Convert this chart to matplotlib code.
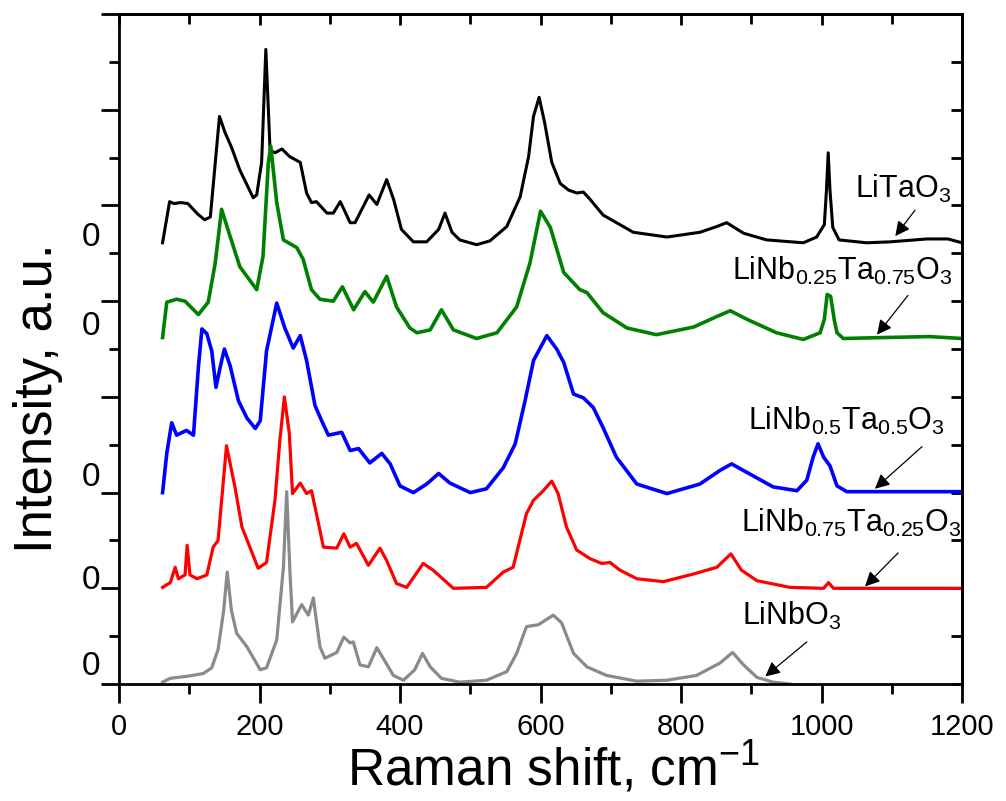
import matplotlib
matplotlib.use("Agg")
import matplotlib.pyplot as plt
from matplotlib.ticker import MultipleLocator

plt.rcParams['font.family'] = ['Liberation Sans', 'DejaVu Sans']
plt.rcParams['mathtext.default'] = 'regular'

# ---------------- data (Raman shift in cm^-1, intensity in a.u. above each baseline) -------------
litao3_x = [62, 72, 78, 88, 98, 112, 122, 130, 143, 151, 160, 172, 191, 196, 203, 209, 215, 222, 232,
            243, 258, 267, 274, 281, 296, 305, 315, 329, 336, 356, 367, 381, 391, 402, 419, 438, 455,
            464, 474, 485, 509, 528, 552, 571, 583, 590, 598, 606, 616, 628, 640, 652, 661, 671, 689,
            732, 780, 827, 851, 865, 889, 922, 974, 993, 1004, 1007, 1009.5, 1012, 1016, 1025, 1064,
            1098, 1150, 1180, 1200]
litao3_y = [0, 43, 41, 42, 41, 30, 24, 27, 132, 115, 100, 76, 47, 50, 84, 202, 97, 94, 98,
            90, 84, 52, 42, 43, 31, 31, 43, 21, 21, 50, 40, 66, 45, 14, 1, 1, 14,
            31, 11, 3, -2, 2, 17, 48, 90, 132, 152, 125, 84, 62, 55, 52, 53, 45, 29,
            11, 6, 11, 17, 21, 10, 3, 0, 6, 19, 55, 94, 55, 16, 3, 0,
            1, 4, 4, 0]

lnt25_75_x = [62, 68, 82, 94, 113, 127, 137, 146, 158, 172, 196, 205, 212.6, 216, 224.5, 234, 253,
              262, 274, 286, 305, 318, 334, 350, 362, 381, 395, 414, 424, 443, 459, 476, 509, 538,
              566, 585, 600, 614, 633, 656, 666, 689, 723, 765, 818, 851, 870, 894, 936, 974, 998,
              1004, 1008, 1013, 1018, 1022, 1031, 1088, 1154, 1200]
lnt25_75_y = [0, 37, 40, 38, 24, 37, 78, 134, 106, 74, 50, 85, 183, 200, 141, 102, 94,
              82, 50, 40, 38, 53, 29, 48, 37, 64, 32, 10, 5, 8, 29, 8, -1, 5,
              32, 78, 132, 115, 68, 50, 47, 26, 10, 3, 11, 22, 28, 19, 5, -2, 5,
              19, 45, 43, 19, 5, -1, 0, 1, -1]

lnt50_50_x = [62, 68, 75, 82, 96, 106, 113, 118, 125, 132, 138, 144, 150, 158, 170, 182, 194, 201,
              210, 224.5, 236, 248, 258, 267, 279, 288.5, 298, 317, 329, 341, 357, 374, 386, 400,
              419, 438, 455, 471, 500, 523, 547, 564, 578, 590, 609, 623, 633, 647, 661, 675, 689,
              708, 737, 780, 827, 855, 872, 894, 931, 965, 979, 988, 995, 1003, 1012, 1022, 1036,
              1112, 1200]
lnt50_50_y = [0, 41, 73, 60, 65, 60, 131, 171, 166, 148, 110, 131, 150, 133, 96, 78, 67, 75,
              148, 198, 172, 151, 164, 138, 91, 75, 60, 63, 44, 46, 31, 41, 30, 7,
              0, 9, 20, 10, 0, 4, 26, 51, 96, 138, 164, 150, 136, 103, 99, 89, 68,
              37, 9, -1, 9, 23, 30, 21, 6, 2, 13, 37, 51, 37, 28, 7, 1,
              1, 1]

lnt75_25_x = [62, 73, 80, 84.5, 94, 97, 101, 111, 125, 134, 141, 153, 165, 175, 189, 198, 210, 222,
              229, 235.4, 242.4, 247, 258, 267, 274, 281, 291, 310, 320, 329, 338, 355, 371.5, 381,
              395, 409.5, 433, 447, 476, 523, 547, 561, 580, 590, 604, 616, 625, 637, 651.5, 670.5,
              687, 699, 713, 737, 775, 818, 851, 871, 886, 908, 955, 1003, 1010, 1017, 1200]
lnt75_25_y = [1, 6, 22, 10, 14, 45, 14, 10, 14, 43, 50, 149, 106, 64, 38, 21, 27, 92,
              155, 200, 162, 99, 110, 99, 102, 78, 43, 42, 57, 43, 47, 24, 42, 29,
              5, 1, 26, 19, 0, 1, 17, 22, 78, 92, 102, 112, 99, 64, 40, 31,
              26, 27, 19, 10, 7, 15, 22, 36, 19, 8, 1, 0, 6, 0, 0]

linbo3_x = [62, 73, 96, 120, 132, 141, 149, 154, 160, 167.5, 182, 201, 210, 224.5, 234, 238.7, 243.4,
            247, 260, 269.5, 276.6, 286, 293, 310, 320, 329, 333.5, 343, 355, 367, 376, 390.5, 405,
            421, 432, 443, 459, 485, 523, 552, 566, 580, 597, 618, 630, 647, 666, 694, 737, 780,
            822, 855.5, 873.4, 889, 908, 931, 955]
linbo3_y = [2, 6, 8, 11, 17, 36, 77, 117, 77, 53, 39, 15, 17, 46, 122, 201, 116,
            65, 83, 72, 90, 39, 27, 33, 49, 43, 44, 20, 18, 38, 27, 9, 4,
            15, 32, 18, 6, 2, 4, 13, 32, 60, 62, 72, 64, 32, 18, 9, 3, 4,
            9, 22, 33, 20, 7, 2, 0]

series_x = [litao3_x, lnt25_75_x, lnt50_50_x, lnt75_25_x, linbo3_x]
series_y = [litao3_y, lnt25_75_y, lnt50_50_y, lnt75_25_y, linbo3_y]
offsets = [461, 362, 200, 100, 0]
names = ['LiTaO$_3$',
         'LiNb$_{0.25}$Ta$_{0.75}$O$_3$',
         'LiNb$_{0.5}$Ta$_{0.5}$O$_3$',
         'LiNb$_{0.75}$Ta$_{0.25}$O$_3$',
         'LiNbO$_3$']
zero_label_y = [467, 374, 216, 108, 18]
x_ticks = [0, 200, 400, 600, 800, 1000, 1200]

# ---------------- styling / layout -------------
colors = ['#000000', '#008000', '#0000ff', '#ff0000', '#8a8a8a']
widths = [2.2, 2.6, 2.6, 2.3, 2.3]
label_pos = [(1048, 508), (873, 422), (895, 265), (886, 159), (887, 62)]
arrow_tail = [(1133, 495), (1123, 406), (1143, 248), (1109, 137), (979, 44)]
arrow_head = [(1105, 468), (1079, 365), (1076, 204), (1062, 102), (920, 8)]

fig = plt.figure(figsize=(10.06, 8.01), dpi=100)
ax = fig.add_axes([0.1183, 0.146, 0.838, 0.8365])

for xs, ys, off, c, lw in zip(series_x, series_y, offsets, colors, widths):
    ax.plot(xs, [v + off for v in ys], color=c, lw=lw, solid_joinstyle='round')

for name, (tx, ty), tail, head in zip(names, label_pos, arrow_tail, arrow_head):
    ax.text(tx, ty, name, fontsize=22, ha='left', va='baseline', color='black')
    ax.annotate('', xy=head, xytext=tail,
                arrowprops=dict(arrowstyle='-|>', color='black', lw=0.9,
                                mutation_scale=22, shrinkA=0, shrinkB=0))

for zy in zero_label_y:
    ax.text(-0.033, zy, '0', transform=ax.get_yaxis_transform(),
            fontsize=24, ha='center', va='center')

ax.set_xlim(0, 1200)
ax.set_ylim(0, 700)
ax.set_xticks(x_ticks)
ax.set_xticklabels([str(t) for t in x_ticks])
ax.xaxis.set_minor_locator(MultipleLocator(100))
ax.yaxis.set_major_locator(MultipleLocator(100))
ax.yaxis.set_minor_locator(MultipleLocator(50))
ax.tick_params(axis='y', which='both', labelleft=False)

ax.tick_params(axis='x', which='major', direction='out', length=14, width=2, labelsize=21, pad=7)
ax.tick_params(axis='x', which='minor', direction='out', length=7, width=2)
ax.tick_params(axis='y', which='major', direction='out', length=13, width=2)
ax.tick_params(axis='y', which='minor', direction='out', length=7, width=2)

for s in ax.spines.values():
    s.set_linewidth(2)

# inward ticks on top and right via secondary axes
top = ax.secondary_xaxis('top')
top.set_xticks(x_ticks)
top.xaxis.set_minor_locator(MultipleLocator(100))
top.tick_params(which='major', direction='in', length=8, width=2, labeltop=False)
top.tick_params(which='minor', direction='in', length=7, width=2)
right = ax.secondary_yaxis('right')
right.yaxis.set_major_locator(MultipleLocator(100))
right.yaxis.set_minor_locator(MultipleLocator(50))
right.tick_params(which='both', direction='in', length=8, width=2, labelright=False)
top.spines['top'].set_linewidth(2)
right.spines['right'].set_linewidth(2)

ax.set_xlabel('Raman shift, cm$^{-1}$', fontsize=37)
ax.xaxis.label.set_va('baseline')
ax.xaxis.set_label_coords(0.515, -0.152)
ax.set_ylabel('Intensity, a.u.', fontsize=38)
ax.yaxis.label.set_va('center')
ax.yaxis.set_label_coords(-0.096, 0.427)

fig.savefig('out.png', dpi=100)
